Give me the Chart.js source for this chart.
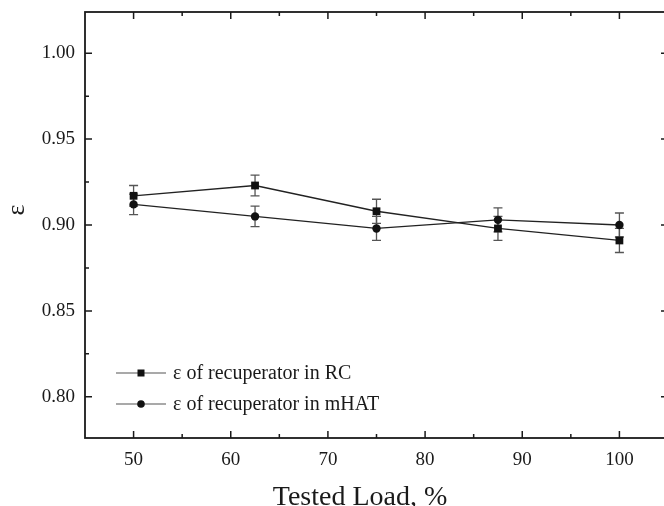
<!DOCTYPE html>
<html>
<head>
<meta charset="utf-8">
<script src="https://cdn.jsdelivr.net/npm/chart.js@4.4.1/dist/chart.umd.min.js"></script>
<style>
  html, body { margin: 0; padding: 0; background: #fff; overflow: hidden; }
  canvas { display: block; }
</style>
</head>
<body>
<canvas id="effChart" width="700" height="506"></canvas>
<script>
// tested load points and recuperator effectiveness
const loads = [50, 62.5, 75, 87.5, 100];
const effRC = [0.917, 0.923, 0.908, 0.898, 0.891];
const errRC = [0.006, 0.006, 0.007, 0.007, 0.007];
const effMHAT = [0.912, 0.905, 0.898, 0.903, 0.900];
const errMHAT = [0.006, 0.006, 0.007, 0.007, 0.007];

const xTicks = [50, 60, 70, 80, 90, 100];
const xMinor = [55, 65, 75, 85, 95];
const yTicks = [0.80, 0.85, 0.90, 0.95, 1.00];
const yMinor = [0.825, 0.875, 0.925, 0.975];
const xTitle = 'Tested Load, %';
const yTitle = 'ε';

const serif = '"Liberation Serif", "Times New Roman", serif';
Chart.defaults.font.family = serif;
Chart.defaults.color = '#1a1a1a';

function toPoints(xs, ys) {
    return xs.map((x, i) => ({ x: x, y: ys[i] }));
}

// error bars, drawn under the markers
const errorBars = {
    id: 'errorBars',
    beforeDatasetsDraw(chart) {
        const ctx = chart.ctx;
        const xs = chart.scales.x, ys = chart.scales.y;
        const sets = [[effRC, errRC], [effMHAT, errMHAT]];
        ctx.save();
        ctx.strokeStyle = '#555';
        ctx.lineWidth = 1.3;
        sets.forEach(([vals, errs]) => {
            loads.forEach((ld, i) => {
                const px = xs.getPixelForValue(ld);
                const top = ys.getPixelForValue(vals[i] + errs[i]);
                const bot = ys.getPixelForValue(vals[i] - errs[i]);
                ctx.beginPath();
                ctx.moveTo(px, top); ctx.lineTo(px, bot);
                ctx.moveTo(px - 4.5, top); ctx.lineTo(px + 4.5, top);
                ctx.moveTo(px - 4.5, bot); ctx.lineTo(px + 4.5, bot);
                ctx.stroke();
            });
        });
        ctx.restore();
    }
};

// box frame with inward ticks on all four sides, axis titles and the legend
const frameAndLegend = {
    id: 'frameAndLegend',
    afterDraw(chart) {
        const ctx = chart.ctx;
        const a = chart.chartArea;
        const xs = chart.scales.x, ys = chart.scales.y;
        ctx.save();
        ctx.strokeStyle = '#1a1a1a';
        ctx.lineWidth = 1.8;
        ctx.strokeRect(a.left, a.top, a.right - a.left, a.bottom - a.top);

        ctx.lineWidth = 1.5;
        ctx.beginPath();
        const xt = (v, len) => {
            const p = xs.getPixelForValue(v);
            ctx.moveTo(p, a.bottom); ctx.lineTo(p, a.bottom - len);
            ctx.moveTo(p, a.top); ctx.lineTo(p, a.top + len);
        };
        const yt = (v, len) => {
            const p = ys.getPixelForValue(v);
            ctx.moveTo(a.left, p); ctx.lineTo(a.left + len, p);
            ctx.moveTo(a.right, p); ctx.lineTo(a.right - len, p);
        };
        xTicks.forEach(v => xt(v, 7));
        xMinor.forEach(v => xt(v, 4));
        yTicks.forEach(v => yt(v, 7));
        yMinor.forEach(v => yt(v, 4));
        ctx.stroke();

        // axis titles
        ctx.fillStyle = '#1a1a1a';
        ctx.textAlign = 'center';
        ctx.textBaseline = 'alphabetic';
        ctx.font = '28px ' + serif;
        ctx.fillText(xTitle, 360, 505);
        ctx.save();
        ctx.translate(17, 210);
        ctx.rotate(-Math.PI / 2);
        ctx.textBaseline = 'middle';
        ctx.font = '26px ' + serif;
        ctx.fillText(yTitle, 0, 0);
        ctx.restore();

        // legend
        const lx0 = a.left + 31, lx1 = a.left + 81, tx = a.left + 88;
        const rows = [a.top + 361, a.top + 392];
        ctx.textAlign = 'left';
        ctx.font = '20px ' + serif;
        ctx.textBaseline = 'middle';
        chart.data.datasets.forEach((ds, i) => {
            const y = rows[i];
            ctx.strokeStyle = '#555';
            ctx.lineWidth = 1.2;
            ctx.beginPath();
            ctx.moveTo(lx0, y); ctx.lineTo(lx1, y);
            ctx.stroke();
            const mx = (lx0 + lx1) / 2;
            ctx.fillStyle = '#111';
            if (ds.pointStyle === 'rect') {
                ctx.fillRect(mx - 3.5, y - 3.5, 7, 7);
            } else {
                ctx.beginPath();
                ctx.arc(mx, y, 3.8, 0, Math.PI * 2);
                ctx.fill();
            }
            ctx.fillStyle = '#1a1a1a';
            ctx.fillText(ds.label, tx, y + 1);
        });
        ctx.restore();
    }
};

const ctx = document.getElementById('effChart').getContext('2d');
const effChart = new Chart(ctx, {
    type: 'line',
    data: {
        datasets: [{
            label: 'ε of recuperator in RC',
            data: toPoints(loads, effRC),
            borderColor: '#222',
            borderWidth: 1.3,
            pointStyle: 'rect',
            pointRadius: 5.5,
            pointBackgroundColor: '#111',
            pointBorderWidth: 0,
            tension: 0
        }, {
            label: 'ε of recuperator in mHAT',
            data: toPoints(loads, effMHAT),
            borderColor: '#222',
            borderWidth: 1.3,
            pointStyle: 'circle',
            pointRadius: 4.2,
            pointBackgroundColor: '#111',
            pointBorderWidth: 0,
            tension: 0
        }]
    },
    options: {
        responsive: false,
        animation: false,
        layout: { padding: { top: 12, right: 32, left: 0, bottom: 0 } },
        plugins: {
            legend: { display: false },
            tooltip: { enabled: false }
        },
        scales: {
            x: {
                type: 'linear',
                min: 45,
                max: 105,
                grid: { display: false, drawTicks: false },
                border: { display: false },
                afterBuildTicks: s => { s.ticks = xTicks.map(v => ({ value: v })); },
                afterFit: s => { s.height = 68; s.paddingLeft = 0; s.paddingRight = 0; },
                ticks: {
                    padding: 11,
                    maxRotation: 0,
                    font: { size: 19 },
                    callback: v => String(v)
                }
            },
            y: {
                min: 0.776,
                max: 1.024,
                grid: { display: false, drawTicks: false },
                border: { display: false },
                afterBuildTicks: s => { s.ticks = yTicks.map(v => ({ value: v })); },
                afterFit: s => { s.width = 85; s.paddingTop = 0; s.paddingBottom = 0; },
                ticks: {
                    padding: 10,
                    font: { size: 19 },
                    callback: v => v.toFixed(2)
                }
            }
        }
    },
    plugins: [errorBars, frameAndLegend]
});
</script>
</body>
</html>
